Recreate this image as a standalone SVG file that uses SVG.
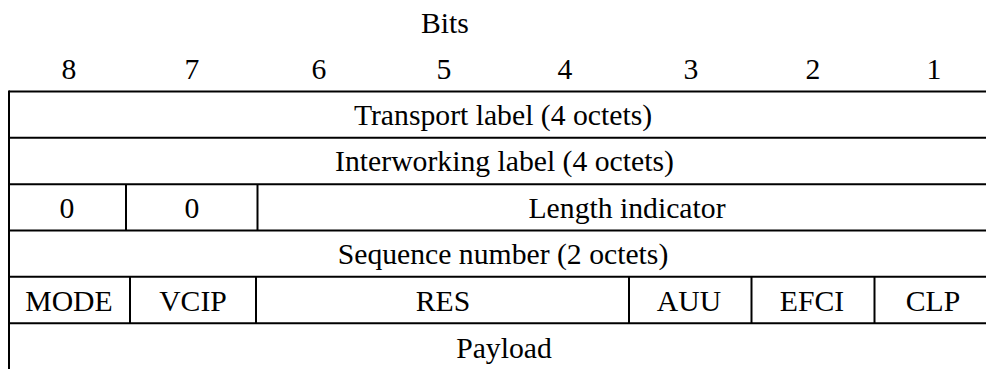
<svg xmlns="http://www.w3.org/2000/svg" width="986" height="369" viewBox="0 0 986 369">
<style>
line{stroke:#000;stroke-width:2}
</style>
<rect width="986" height="369" fill="#fff"/>
<g font-family="Liberation Serif, Times New Roman, serif" font-size="29.7" fill="#000" text-anchor="middle">
<g id="header">
<text x="445" y="33">Bits</text>
<text x="69" y="79">8</text>
<text x="192" y="79">7</text>
<text x="319" y="79">6</text>
<text x="444" y="79">5</text>
<text x="565" y="79">4</text>
<text x="691" y="79">3</text>
<text x="813" y="79">2</text>
<text x="934" y="79">1</text>
</g>
<g id="transport"><text x="503" y="125">Transport label (4 octets)</text></g>
<g id="interworking"><text x="504.5" y="171.3">Interworking label (4 octets)</text></g>
<g id="bit8"><text x="67" y="217.5">0</text></g>
<g id="bit7"><text x="192" y="217.5">0</text></g>
<g id="length"><text x="627" y="217.5">Length indicator</text></g>
<g id="sequence"><text x="503" y="264">Sequence number (2 octets)</text></g>
<g id="mode"><text x="69" y="310.5">MODE</text></g>
<g id="vcip"><text x="193" y="310.5">VCIP</text></g>
<g id="res"><text x="443" y="310.5">RES</text></g>
<g id="auu"><text x="689" y="310.5">AUU</text></g>
<g id="efci"><text x="812" y="310.5">EFCI</text></g>
<g id="clp"><text x="933" y="310.5">CLP</text></g>
<g id="payload"><text x="504" y="357.5">Payload</text></g>
</g>
<g id="connectors">
<line x1="9" y1="90.5" x2="9" y2="369"/>
<line x1="9" y1="91.5" x2="986" y2="91.5"/>
<line x1="9" y1="137.8" x2="986" y2="137.8"/>
<line x1="9" y1="184.2" x2="986" y2="184.2"/>
<line x1="9" y1="230.5" x2="986" y2="230.5"/>
<line x1="9" y1="276.8" x2="986" y2="276.8"/>
<line x1="9" y1="323.2" x2="986" y2="323.2"/>
<line x1="126" y1="184.2" x2="126" y2="230.5"/>
<line x1="257.5" y1="184.2" x2="257.5" y2="230.5"/>
<line x1="130" y1="276.8" x2="130" y2="323.2"/>
<line x1="256" y1="276.8" x2="256" y2="323.2"/>
<line x1="629" y1="276.8" x2="629" y2="323.2"/>
<line x1="751.5" y1="276.8" x2="751.5" y2="323.2"/>
<line x1="874.5" y1="276.8" x2="874.5" y2="323.2"/>
</g>
</svg>
